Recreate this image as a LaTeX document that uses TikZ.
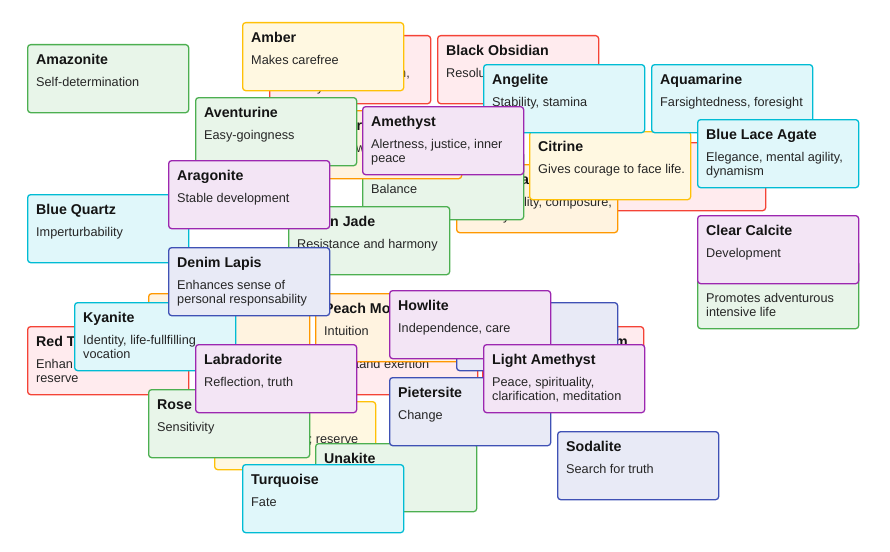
\documentclass[tikz,border=0pt]{standalone}
\usepackage{fontspec}
\setmainfont{Liberation Sans}

% card palette: border and background for each colour family
\definecolor{gemGreenLine}{HTML}{4CAF50}\definecolor{gemGreenBg}{HTML}{E8F5E9}
\definecolor{gemYellowLine}{HTML}{FFC107}\definecolor{gemYellowBg}{HTML}{FFF8E1}
\definecolor{gemRedLine}{HTML}{F44336}\definecolor{gemRedBg}{HTML}{FFEBEE}
\definecolor{gemCyanLine}{HTML}{00BCD4}\definecolor{gemCyanBg}{HTML}{E0F7FA}
\definecolor{gemPurpleLine}{HTML}{9C27B0}\definecolor{gemPurpleBg}{HTML}{F3E5F5}
\definecolor{gemIndigoLine}{HTML}{3F51B5}\definecolor{gemIndigoBg}{HTML}{E8EAF6}
\definecolor{gemOrangeLine}{HTML}{FF9800}\definecolor{gemOrangeBg}{HTML}{FFF3E0}

\tikzset{
  gem/.style={rectangle, draw=gem#1Line, fill=gem#1Bg, line width=1.3pt,
    rounded corners=3pt, minimum width=161pt, minimum height=68pt,
    inner sep=0pt, anchor=north west},
  gemtitle/.style={anchor=base west, inner sep=0pt,
    font=\fontsize{14.2}{17}\selectfont\bfseries, text=black!92},
  gemtext/.style={anchor=base west, inner sep=0pt,
    font=\fontsize{12.7}{15}\selectfont, text=black!85},
}

% \gemcard{name}{left}{top}{colour}{title}{line 1}{line 2}
\newcommand\gemcard[7]{%
  \node[gem=#4] (#1) at (#2,#3) {};
  \path (#1.north west) ++(9,20.5) node[gemtitle] (#1-title) {#5};
  \path (#1.north west) ++(9,42) node[gemtext] (#1-one) {#6};
  \path (#1.north west) ++(9,56.7) node[gemtext] (#1-two) {#7};
}

\begin{document}
\begin{tikzpicture}[x=1pt,y=-1pt]
\useasboundingbox (0,0) rectangle (890,551);

\gemcard{amazonite}{27}{44}{Green}{Amazonite}{Self-determination}{}

\gemcard{redA}{269}{35}{Red}{}{}{}
\node[gemtext] (redA-f1) at (399,77) {n,};
\node[gemtext] (redA-f2) at (317,91.7) {y};

\gemcard{amber}{242}{22}{Yellow}{Amber}{Makes carefree}{}
\gemcard{obsidian}{437}{35}{Red}{Black Obsidian}{Resolu}{}
\gemcard{redC}{604}{142}{Red}{}{}{}

\gemcard{orangeD}{456}{164}{Orange}{}{}{}
\node[gemtitle] (orangeD-f1) at (521,184.5) {a};
\node[gemtext] (orangeD-f2) at (523.8,206) {lity, composure,};
\node[gemtext] (orangeD-f3) at (503,220.7) {y};

\gemcard{citrine}{529}{131}{Yellow}{Citrine}{Gives courage to face life.}{}
\gemcard{angelite}{483}{64}{Cyan}{Angelite}{Stability, stamina}{}
\gemcard{aquamarine}{651}{64}{Cyan}{Aquamarine}{Farsightedness, foresight}{}
\gemcard{lace}{697}{119}{Cyan}{Blue Lace Agate}{Elegance, mental agility,}{dynamism}

\gemcard{greenE}{362}{151}{Green}{}{Balance}{}
\gemcard{jade}{288}{206}{Green}{}{Resistance and harmony}{}
\node[gemtitle] (jade-f1) at (330,226.5) {n Jade};

\gemcard{orangeB}{300}{110}{Orange}{}{}{}
\node[gemtitle] (orangeB-f1) at (356.5,130.5) {r};
\node[gemtext] (orangeB-f2) at (356,152) {w};

\gemcard{amethyst}{362}{106}{Purple}{Amethyst}{Alertness, justice, inner}{peace}
\gemcard{aventurine}{195}{97}{Green}{Aventurine}{Easy-goingness}{}
\gemcard{bluequartz}{27}{194}{Cyan}{Blue Quartz}{Imperturbability}{}
\gemcard{aragonite}{168}{160}{Purple}{Aragonite}{Stable development}{}

\gemcard{orangeG}{148}{293}{Orange}{}{}{}
\gemcard{redtiger}{27}{326}{Red}{Red T}{Enhan}{reserve}
\gemcard{kyanite}{74}{302}{Cyan}{Kyanite}{Identity, life-fullfilling}{vocation}

\gemcard{redH}{316}{326}{Red}{}{}{}
\node[gemtext] (redH-f1) at (355.6,368) {tand exertion};

\gemcard{peach}{315}{293}{Orange}{Peach Mo}{Intuition}{}
\gemcard{denim}{168}{247}{Indigo}{Denim Lapis}{Enhances sense of}{personal responsability}

\gemcard{redI}{482}{326}{Red}{}{}{}
\node[gemtitle] (redI-f1) at (615,346.5) {m};

\gemcard{indigoK}{456}{302}{Indigo}{}{}{}
\gemcard{howlite}{389}{290}{Purple}{Howlite}{Independence, care}{}

\gemcard{yellowL}{214}{401}{Yellow}{}{}{}
\node[gemtext] (yellowL-f1) at (308.6,443) {; reserve};

\gemcard{unakite}{315}{443}{Green}{Unakite}{}{}
\gemcard{pietersite}{389}{377}{Indigo}{Pietersite}{Change}{}
\gemcard{lightamethyst}{483}{344}{Purple}{Light Amethyst}{Peace, spirituality,}{clarification, meditation}
\gemcard{rose}{148}{389}{Green}{Rose}{Sensitivity}{}
\gemcard{labradorite}{195}{344}{Purple}{Labradorite}{Reflection, truth}{}
\gemcard{turquoise}{242}{464}{Cyan}{Turquoise}{Fate}{}
\gemcard{sodalite}{557}{431}{Indigo}{Sodalite}{Search for truth}{}

\gemcard{greenM}{697}{260}{Green}{}{Promotes adventurous}{intensive life}
\gemcard{calcite}{697}{215}{Purple}{Clear Calcite}{Development}{}

\end{tikzpicture}
\end{document}
